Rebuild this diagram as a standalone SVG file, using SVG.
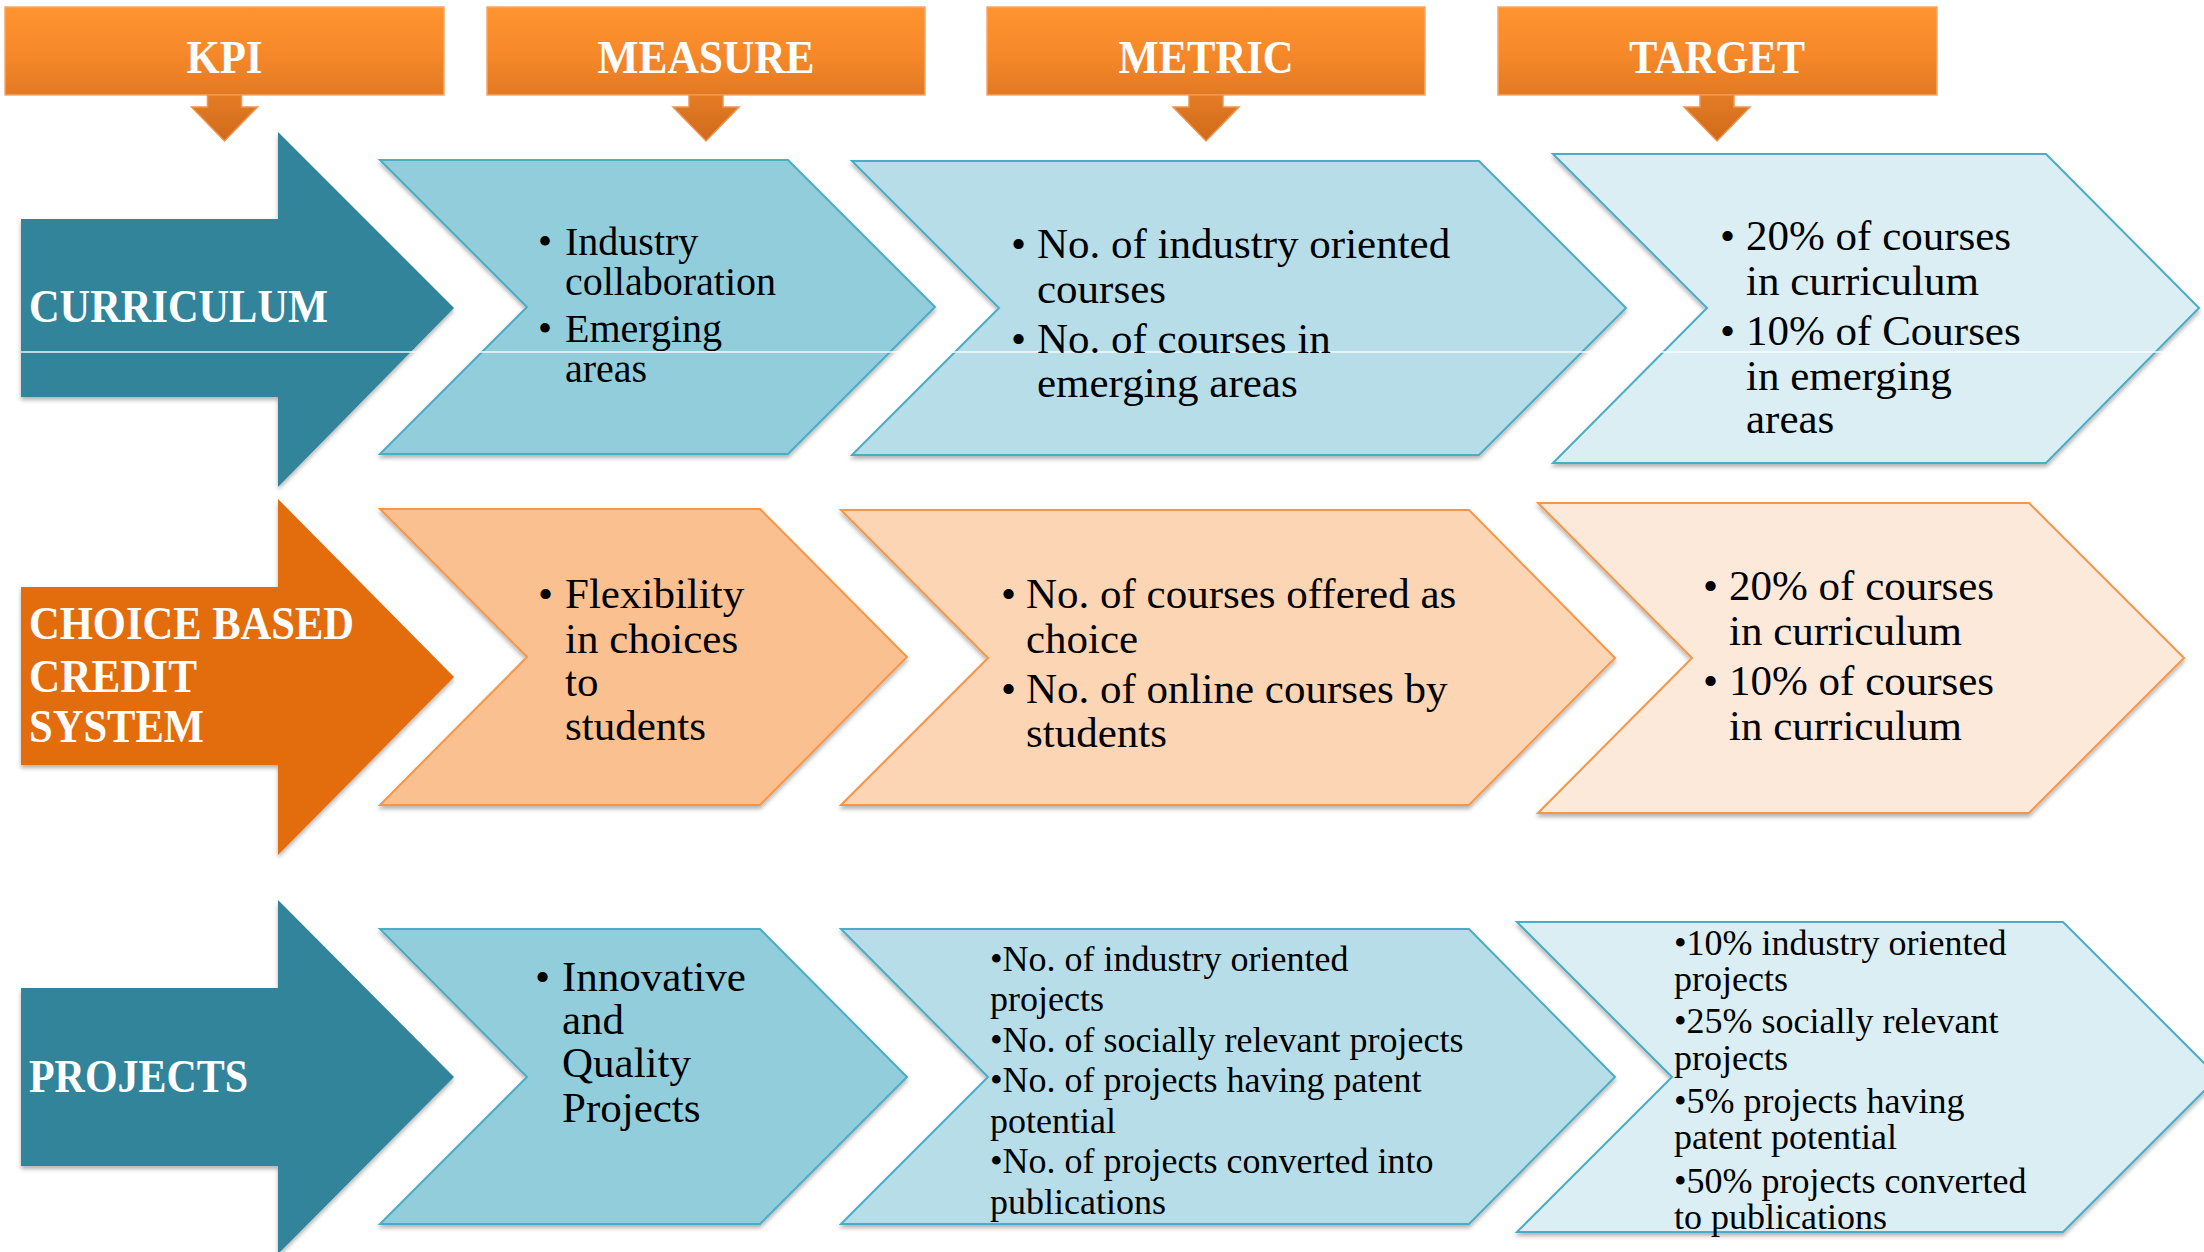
<svg xmlns="http://www.w3.org/2000/svg" width="2204" height="1252" viewBox="0 0 2204 1252">
<defs>
<linearGradient id="hdrGrad" x1="0" y1="0" x2="0" y2="1">
<stop offset="0" stop-color="#FF942F"/>
<stop offset="0.5" stop-color="#F7892A"/>
<stop offset="1" stop-color="#E27A23"/>
</linearGradient>
<linearGradient id="hdrArrowGrad" x1="0" y1="0" x2="0" y2="1">
<stop offset="0" stop-color="#E47C25"/>
<stop offset="1" stop-color="#D06A1B"/>
</linearGradient>
<filter id="shadow" x="-5%" y="-5%" width="110%" height="115%">
<feDropShadow dx="0" dy="3" stdDeviation="2" flood-color="#000" flood-opacity="0.3"/>
</filter>
<path id="hdrArrow" d="M -17,95 L 17,95 L 17,107 L 33,107 L 0,141 L -33,107 L -17,107 Z"/>
</defs>
<style>
.hdr{fill:url(#hdrGrad);stroke:#F6A66A;stroke-width:1.5}
.harrow{fill:url(#hdrArrowGrad);stroke:#EE9550;stroke-width:1.5}
.htxt{font-family:"Liberation Serif","DejaVu Serif",serif;font-weight:bold;font-size:46px;fill:#FFFFFF;text-anchor:middle}
.kpi{font-family:"Liberation Serif","DejaVu Serif",serif;font-weight:bold;font-size:46px;fill:#FFFFFF}
.teal{fill:#31849B;filter:url(#shadow)}
.orng{fill:#E36C09;filter:url(#shadow)}
.b1{fill:#92CDDC;stroke:#4BACC6;stroke-width:2;filter:url(#shadow)}
.b2{fill:#B7DEE8;stroke:#4BACC6;stroke-width:2;filter:url(#shadow)}
.b3{fill:#DAEEF3;stroke:#4BACC6;stroke-width:2;filter:url(#shadow)}
.o1{fill:#FAC090;stroke:#F79646;stroke-width:2;filter:url(#shadow)}
.o2{fill:#FCD5B5;stroke:#F79646;stroke-width:2;filter:url(#shadow)}
.o3{fill:#FDE9D9;stroke:#F79646;stroke-width:2;filter:url(#shadow)}
.t40{font-family:"Liberation Serif","DejaVu Serif",serif;font-size:40px;fill:#000}
.t43{font-family:"Liberation Serif","DejaVu Serif",serif;font-size:43px;fill:#000}
.t36{font-family:"Liberation Serif","DejaVu Serif",serif;font-size:36px;fill:#000}
</style>
<rect x="0" y="0" width="2204" height="1252" fill="#FFFFFF"/>

<!-- Column headers -->
<g id="hdr-kpi">
<rect class="hdr" x="5" y="7" width="439" height="88"/>
<use href="#hdrArrow" class="harrow" transform="translate(224.5,0)"/>
<text class="htxt" x="224.5" y="73" textLength="76" lengthAdjust="spacingAndGlyphs">KPI</text>
</g>
<g id="hdr-measure">
<rect class="hdr" x="487" y="7" width="438" height="88"/>
<use href="#hdrArrow" class="harrow" transform="translate(706,0)"/>
<text class="htxt" x="706" y="73" textLength="217" lengthAdjust="spacingAndGlyphs">MEASURE</text>
</g>
<g id="hdr-metric">
<rect class="hdr" x="987" y="7" width="438" height="88"/>
<use href="#hdrArrow" class="harrow" transform="translate(1206,0)"/>
<text class="htxt" x="1206" y="73" textLength="175" lengthAdjust="spacingAndGlyphs">METRIC</text>
</g>
<g id="hdr-target">
<rect class="hdr" x="1498" y="7" width="439" height="88"/>
<use href="#hdrArrow" class="harrow" transform="translate(1717,0)"/>
<text class="htxt" x="1717" y="73" textLength="176" lengthAdjust="spacingAndGlyphs">TARGET</text>
</g>

<!-- Row 1: Curriculum -->
<g id="kpi-curriculum">
<path class="teal" d="M 21,219 L 278,219 L 278,132 L 454,308 L 278,487 L 278,397 L 21,397 Z"/>
</g>
<g id="measure-curriculum">
<path class="b1" d="M 380,160 L 788,160 L 935,307 L 788,454 L 380,454 L 527,307 Z"/>
</g>
<g id="metric-curriculum">
<path class="b2" d="M 852,161 L 1479,161 L 1626,308 L 1479,455 L 852,455 L 999,308 Z"/>
</g>
<g id="target-curriculum">
<path class="b3" d="M 1553,154 L 2046,154 L 2199,308 L 2046,463 L 1553,463 L 1707,308 Z"/>
</g>
<line x1="21" y1="352" x2="2204" y2="352" stroke="#FFFFFF" stroke-width="1.5" opacity="0.9"/>
<text class="kpi" x="29" y="322" textLength="299" lengthAdjust="spacingAndGlyphs">CURRICULUM</text>
<g class="t40">
<text x="538" y="255">•</text><text x="565" y="255">Industry</text>
<text x="565" y="295">collaboration</text>
<text x="538" y="342">•</text><text x="565" y="342">Emerging</text>
<text x="565" y="382">areas</text>
</g>
<g class="t43">
<text x="1011" y="258">•</text><text x="1037" y="258">No. of industry oriented</text>
<text x="1037" y="303">courses</text>
<text x="1011" y="353">•</text><text x="1037" y="353">No. of courses in</text>
<text x="1037" y="397">emerging areas</text>
</g>
<g class="t43">
<text x="1720" y="250">•</text><text x="1746" y="250">20% of courses</text>
<text x="1746" y="295">in curriculum</text>
<text x="1720" y="345">•</text><text x="1746" y="345">10% of Courses</text>
<text x="1746" y="390">in emerging</text>
<text x="1746" y="433">areas</text>
</g>

<!-- Row 2: Choice based credit system -->
<g id="kpi-cbcs">
<path class="orng" d="M 21,587 L 278,587 L 278,499 L 454,677 L 278,855 L 278,765 L 21,765 Z"/>
<text class="kpi" x="29" y="639" textLength="325" lengthAdjust="spacingAndGlyphs">CHOICE BASED</text>
<text class="kpi" x="29" y="692" textLength="168" lengthAdjust="spacingAndGlyphs">CREDIT</text>
<text class="kpi" x="29" y="742" textLength="175" lengthAdjust="spacingAndGlyphs">SYSTEM</text>
</g>
<g id="measure-cbcs">
<path class="o1" d="M 380,509 L 760,509 L 907,657 L 760,805 L 380,805 L 527,657 Z"/>
<g class="t43">
<text x="538" y="608">•</text><text x="565" y="608">Flexibility</text>
<text x="565" y="653">in choices</text>
<text x="565" y="696">to</text>
<text x="565" y="740">students</text>
</g>
</g>
<g id="metric-cbcs">
<path class="o2" d="M 841,510 L 1469,510 L 1615,658 L 1469,805 L 841,805 L 988,658 Z"/>
<g class="t43">
<text x="1001" y="608">•</text><text x="1026" y="608">No. of courses offered as</text>
<text x="1026" y="653">choice</text>
<text x="1001" y="703">•</text><text x="1026" y="703">No. of online courses by</text>
<text x="1026" y="747">students</text>
</g>
</g>
<g id="target-cbcs">
<path class="o3" d="M 1538,503 L 2029,503 L 2184,658 L 2029,813 L 1538,813 L 1692,658 Z"/>
<g class="t43">
<text x="1703" y="600">•</text><text x="1729" y="600">20% of courses</text>
<text x="1729" y="645">in curriculum</text>
<text x="1703" y="695">•</text><text x="1729" y="695">10% of courses</text>
<text x="1729" y="740">in curriculum</text>
</g>
</g>

<!-- Row 3: Projects -->
<g id="kpi-projects">
<path class="teal" d="M 21,988 L 278,988 L 278,900 L 454,1077 L 278,1254 L 278,1166 L 21,1166 Z"/>
<text class="kpi" x="29" y="1092" textLength="219" lengthAdjust="spacingAndGlyphs">PROJECTS</text>
</g>
<g id="measure-projects">
<path class="b1" d="M 380,929 L 760,929 L 907,1077 L 760,1224 L 380,1224 L 527,1077 Z"/>
<g class="t43">
<text x="535" y="991">•</text><text x="562" y="991">Innovative</text>
<text x="562" y="1034">and</text>
<text x="562" y="1077">Quality</text>
<text x="562" y="1122">Projects</text>
</g>
</g>
<g id="metric-projects">
<path class="b2" d="M 841,929 L 1469,929 L 1615,1077 L 1469,1224 L 841,1224 L 988,1077 Z"/>
<g class="t36">
<text x="990" y="971">•No. of industry oriented</text>
<text x="990" y="1011">projects</text>
<text x="990" y="1052">•No. of socially relevant projects</text>
<text x="990" y="1092">•No. of projects having patent</text>
<text x="990" y="1133">potential</text>
<text x="990" y="1173">•No. of projects converted into</text>
<text x="990" y="1214">publications</text>
</g>
</g>
<g id="target-projects">
<path class="b3" d="M 1517,922 L 2063,922 L 2218,1077 L 2063,1232 L 1517,1232 L 1672,1077 Z"/>
<g class="t36">
<text x="1674" y="955">•10% industry oriented</text>
<text x="1674" y="991">projects</text>
<text x="1674" y="1033">•25% socially relevant</text>
<text x="1674" y="1070">projects</text>
<text x="1674" y="1113">•5% projects having</text>
<text x="1674" y="1149">patent potential</text>
<text x="1674" y="1193">•50% projects converted</text>
<text x="1674" y="1229">to publications</text>
</g>
</g>
<g id="connectors"></g>
</svg>
